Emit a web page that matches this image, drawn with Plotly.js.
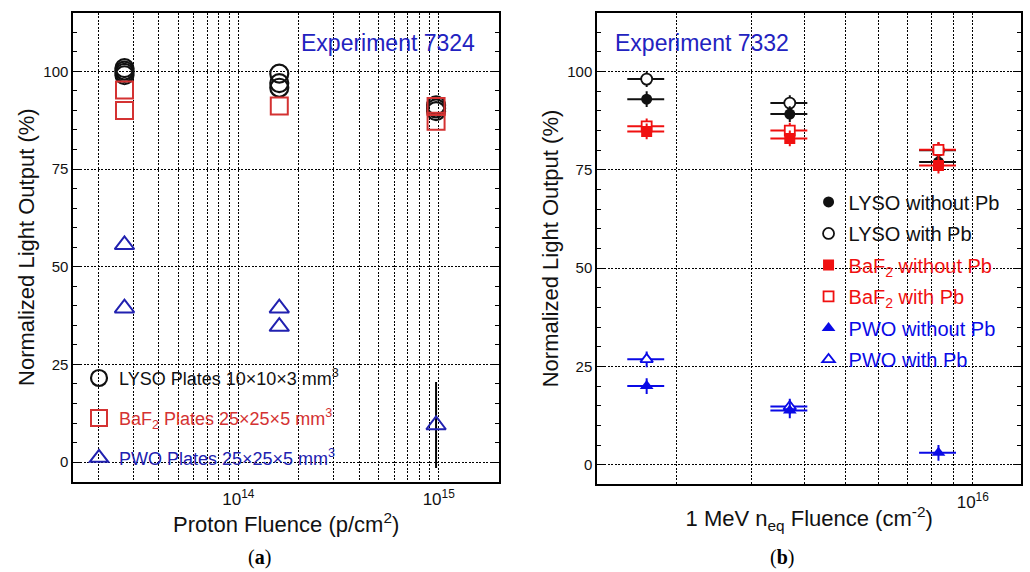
<!DOCTYPE html>
<html>
<head>
<meta charset="utf-8">
<script src="https://cdn.plot.ly/plotly-3.0.1.min.js"></script>
<style>html,body{margin:0;padding:0;background:#fff;}#chart{width:1030px;height:572px;}</style>
</head>
<body>
<div id="chart"></div>
<script>
// ---------- Panel (a): Experiment 7324, proton fluence ----------
const lysoA_x = [2.7e13, 2.7e13, 2.7e13, 2.7e13, 1.6e14, 1.6e14, 1.6e14, 9.7e14, 9.7e14, 9.7e14];
const lysoA_y = [100.8, 100.2, 99.6, 99.0, 99.4, 97.0, 95.8, 91.3, 90.5, 89.8];
const baf2A_x = [2.7e13, 2.7e13, 1.6e14, 9.7e14, 9.7e14];
const baf2A_y = [95.2, 90.0, 91.1, 91.0, 87.2];
const pwoA_x  = [2.7e13, 2.7e13, 1.6e14, 1.6e14, 9.7e14];
const pwoA_y  = [55.6, 39.4, 39.4, 34.7, 9.5];
const pwoA_err = [0, 0, 0, 0, 11];
const tickValsA = [1e14, 1e15];
const tickTextA = ['10<sup>14</sup>', '10<sup>15</sup>'];
const minorValsA = [2e13,3e13,4e13,5e13,6e13,7e13,8e13,9e13,2e14,3e14,4e14,5e14,6e14,7e14,8e14,9e14];

// ---------- Panel (b): Experiment 7332, 1 MeV neq fluence ----------
const fluenceB = [1.7e15, 3.7e15, 8.3e15];
const lysoNoPb  = [93.0, 89.2, 77.0];
const lysoPb    = [98.1, 92.0, 80.0];
const baf2NoPb  = [84.8, 83.0, 76.1];
const baf2Pb    = [86.1, 85.0, 80.1];
const pwoNoPb   = [20.0, 13.8, 3.0];
const pwoPb_x   = [1.7e15, 3.7e15];
const pwoPb     = [26.8, 14.8];
const errYB = 2;      // vertical uncertainty (%)
const errXB = 10;     // horizontal uncertainty (percent of fluence)
const tickValsB = [1e16];
const tickTextB = ['10<sup>16</sup>'];
const minorValsB = [2e15,3e15,4e15,5e15,6e15,7e15,8e15,9e15];

const FONT = 'Liberation Sans, Arial, Helvetica, sans-serif';
const BLACK = '#111111';
const RED_A = '#d43232';
const BLUE_A = '#2121b0';
const RED_B = '#f01010';
const BLUE_B = '#0a0ae6';
const EXP_BLUE = '#2222c0';
const GRID = '#000000';
const GRIDDASH = '2px,1.5px';

function ebY(color, arr){ return {type:'data', array:arr, visible:true, color:color, thickness:2, width:0}; }
function ebYc(color, v){ return {type:'constant', value:v, visible:true, color:color, thickness:2, width:0}; }
function ebX(color){ return {type:'percent', value:errXB, visible:true, color:color, thickness:2, width:0}; }

const traces = [
  // panel (a)
  {x: lysoA_x, y: lysoA_y, xaxis:'x', yaxis:'y', mode:'markers', type:'scatter', legend:'legend', legendgroup:'a1',
   name:'<span style="color:#111111">LYSO Plates 10×10×3 mm<sup>3</sup></span>',
   marker:{symbol:'circle-open', size:18, color:BLACK, line:{width:2.2, color:BLACK}}},
  {x: baf2A_x, y: baf2A_y, xaxis:'x', yaxis:'y', mode:'markers', type:'scatter', legend:'legend', legendgroup:'a2',
   name:'<span style="color:'+RED_A+'">BaF<sub>2</sub> Plates 25×25×5 mm<sup>3</sup></span>',
   marker:{symbol:'square-open', size:17, color:RED_A, line:{width:2, color:RED_A}}},
  {x: pwoA_x, y: pwoA_y, xaxis:'x', yaxis:'y', mode:'markers', type:'scatter', legend:'legend', legendgroup:'a3',
   name:'<span style="color:'+BLUE_A+'">PWO Plates 25×25×5 mm<sup>3</sup></span>',
   error_y: ebY('#000000', pwoA_err),
   marker:{symbol:'triangle-up-open', size:17, color:BLUE_A, line:{width:2, color:BLUE_A}}},
  // panel (b) (drawn so that filled markers sit on top; legendrank keeps the legend order)
  {x: fluenceB, y: lysoPb, xaxis:'x2', yaxis:'y2', mode:'markers', type:'scatter', legend:'legend2', legendgroup:'b2', legendrank:2,
   name:'<span style="color:#111111">LYSO with Pb</span>',
   error_y: ebYc(BLACK, errYB), error_x: ebX(BLACK),
   marker:{symbol:'circle', size:11, color:'#ffffff', line:{width:1.8, color:BLACK}}},
  {x: fluenceB, y: lysoNoPb, xaxis:'x2', yaxis:'y2', mode:'markers', type:'scatter', legend:'legend2', legendgroup:'b1', legendrank:1,
   name:'<span style="color:#111111">LYSO without Pb</span>',
   error_y: ebYc(BLACK, errYB), error_x: ebX(BLACK),
   marker:{symbol:'circle', size:11, color:BLACK, line:{width:0, color:BLACK}}},
  {x: fluenceB, y: baf2Pb, xaxis:'x2', yaxis:'y2', mode:'markers', type:'scatter', legend:'legend2', legendgroup:'b4', legendrank:4,
   name:'<span style="color:'+RED_B+'">BaF<sub>2</sub> with Pb</span>',
   error_y: ebYc(RED_B, errYB), error_x: ebX(RED_B),
   marker:{symbol:'square', size:10, color:'#ffffff', line:{width:1.8, color:RED_B}}},
  {x: fluenceB, y: baf2NoPb, xaxis:'x2', yaxis:'y2', mode:'markers', type:'scatter', legend:'legend2', legendgroup:'b3', legendrank:3,
   name:'<span style="color:'+RED_B+'">BaF<sub>2</sub> without Pb</span>',
   error_y: ebYc(RED_B, errYB), error_x: ebX(RED_B),
   marker:{symbol:'square', size:11, color:RED_B, line:{width:0, color:RED_B}}},
  {x: pwoPb_x, y: pwoPb, xaxis:'x2', yaxis:'y2', mode:'markers', type:'scatter', legend:'legend2', legendgroup:'b6', legendrank:6,
   name:'<span style="color:'+BLUE_B+'">PWO with Pb</span>',
   error_y: ebYc(BLUE_B, errYB), error_x: ebX(BLUE_B),
   marker:{symbol:'triangle-up', size:11, color:'#ffffff', line:{width:1.8, color:BLUE_B}}},
  {x: fluenceB, y: pwoNoPb, xaxis:'x2', yaxis:'y2', mode:'markers', type:'scatter', legend:'legend2', legendgroup:'b5', legendrank:5,
   name:'<span style="color:'+BLUE_B+'">PWO without Pb</span>',
   error_y: ebYc(BLUE_B, errYB), error_x: ebX(BLUE_B),
   marker:{symbol:'triangle-up', size:12, color:BLUE_B, line:{width:0, color:BLUE_B}}}
];

function xAx(domain, range, tv, tt, mv, title, anchor, standoff){
  return {
    domain: domain, anchor: anchor, type:'log', range: range,
    tickmode:'array', tickvals: tv, ticktext: tt, ticks:'', ticklabelstandoff:1,
    tickfont:{family:FONT, size:17, color:BLACK},
    showgrid:true, gridcolor:GRID, gridwidth:1, griddash:GRIDDASH,
    minor:{tickmode:'array', tickvals: mv, ticks:'', showgrid:true, gridcolor:GRID, gridwidth:1, griddash:GRIDDASH},
    showline:true, linecolor:'#000', linewidth:2, mirror:true, zeroline:false,
    title:{text:title, font:{family:FONT, size:22, color:BLACK}, standoff:standoff}
  };
}
function yAx(domain, anchor){
  return {
    domain: domain, anchor: anchor, range:[-5,115], tick0:0, dtick:25,
    ticks:'inside', ticklen:8, tickwidth:1, tickcolor:'#000',
    minor:{dtick:5, tick0:0, ticks:'inside', ticklen:4, tickcolor:'#000', tickwidth:1, showgrid:false},
    tickfont:{family:FONT, size:15, color:BLACK},
    showgrid:true, gridcolor:GRID, gridwidth:1, griddash:GRIDDASH,
    showline:true, linecolor:'#000', linewidth:2, mirror:'ticks', zeroline:false,
    title:{text:'Normalized Light Output (%)', font:{family:FONT, size:22, color:BLACK}, standoff:3}
  };
}

const layout = {
  width:1030, height:572,
  margin:{l:0, r:0, t:0, b:0},
  paper_bgcolor:'#ffffff', plot_bgcolor:'#ffffff',
  font:{family:FONT, color:BLACK},
  xaxis: xAx([0.0712,0.4845], [Math.log10(1.5e13), Math.log10(2e15)], tickValsA, tickTextA, minorValsA, 'Proton Fluence (p/cm<sup>2</sup>)', 'y', 3),
  yaxis: yAx([0.1579,0.9778], 'x'),
  xaxis2: xAx([0.5799,0.9913], [Math.log10(1.3e15), Math.log10(1.3e16)], tickValsB, tickTextB, minorValsB, '1 MeV n<sub>eq</sub> Fluence (cm<sup>-2</sup>)', 'y2', 0),
  yaxis2: yAx([0.1533,0.9778], 'x2'),
  showlegend:true,
  legend:{x:0.0767, y:0.371, xanchor:'left', yanchor:'top', bgcolor:'rgba(0,0,0,0)', borderwidth:0,
          font:{family:FONT, size:18, color:BLACK}, traceorder:'grouped', tracegroupgap:13.5, itemwidth:30},
  legend2:{x:0.785, y:0.681, xanchor:'left', yanchor:'top', bgcolor:'rgba(0,0,0,0)', borderwidth:0,
          font:{family:FONT, size:20, color:BLACK}, traceorder:'grouped', tracegroupgap:2.5, itemwidth:30},
  annotations:[
    {text:'Experiment 7324', xref:'paper', yref:'paper', x:388/1030, y:1-43/572, xanchor:'center', yanchor:'middle',
     showarrow:false, font:{family:FONT, size:23, color:EXP_BLUE}},
    {text:'Experiment 7332', xref:'paper', yref:'paper', x:702/1030, y:1-43/572, xanchor:'center', yanchor:'middle',
     showarrow:false, font:{family:FONT, size:23, color:EXP_BLUE}},
    {text:'(<b>a</b>)', xref:'paper', yref:'paper', x:259/1030, y:1-557/572, xanchor:'center', yanchor:'middle',
     showarrow:false, font:{family:'Liberation Serif, DejaVu Serif, serif', size:20, color:'#000'}},
    {text:'(<b>b</b>)', xref:'paper', yref:'paper', x:782/1030, y:1-557/572, xanchor:'center', yanchor:'middle',
     showarrow:false, font:{family:'Liberation Serif, DejaVu Serif, serif', size:20, color:'#000'}}
  ]
};

Plotly.newPlot('chart', traces, layout, {staticPlot:true, displayModeBar:false});
</script>
</body>
</html>
